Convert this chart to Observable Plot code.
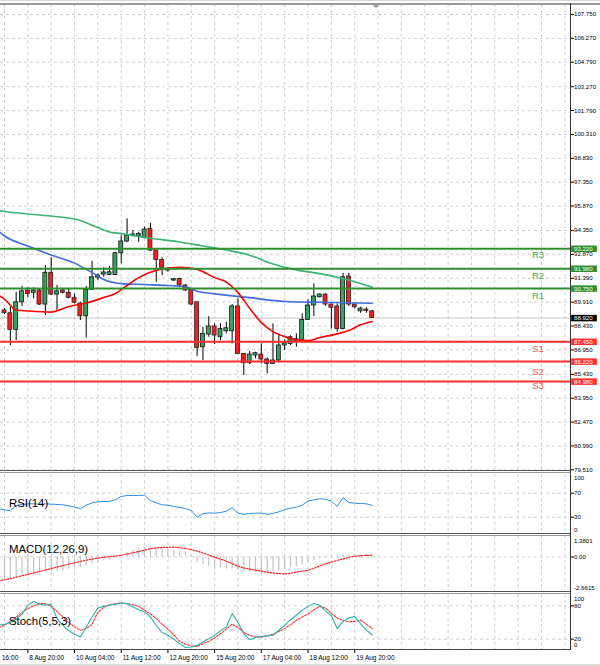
<!DOCTYPE html>
<html>
<head>
<meta charset="utf-8">
<script src="https://cdn.jsdelivr.net/npm/d3@7"></script>
<script src="https://cdn.jsdelivr.net/npm/@observablehq/plot@0.6"></script>
<style>
  html, body { margin: 0; padding: 0; background: #fff; }
  #root { position: relative; width: 600px; height: 666px; overflow: hidden; background: #fff; }
  .panel { position: absolute; left: 0; width: 600px; }
  .panel svg { display: block; }
  .ln { position: absolute; }
</style>
</head>
<body>
<div id="root">
  <div class="panel" id="pMain" style="top:0px"></div>
  <div class="panel" id="pRsi" style="top:472px"></div>
  <div class="panel" id="pMacd" style="top:534px"></div>
  <div class="panel" id="pStoch" style="top:593px"></div>
  <!-- window / sub-window borders -->
  <div class="ln" style="left:0;top:0;width:600px;height:1px;background:#d6d6d6"></div>
  <div class="ln" style="left:0;top:3px;width:600px;height:2px;background:#9a9a9a"></div>
  <div class="ln" style="left:0;top:470px;width:570px;height:1px;background:#555"></div>
  <div class="ln" style="left:0;top:472px;width:570px;height:1px;background:#999"></div>
  <div class="ln" style="left:0;top:533px;width:570px;height:1px;background:#555"></div>
  <div class="ln" style="left:0;top:535px;width:570px;height:1px;background:#999"></div>
  <div class="ln" style="left:0;top:591px;width:570px;height:1px;background:#555"></div>
  <div class="ln" style="left:0;top:593px;width:570px;height:1px;background:#999"></div>
  <div class="ln" style="left:0;top:649px;width:570px;height:1px;background:#444"></div>
  <div class="ln" style="left:570px;top:3px;width:1px;height:647px;background:#333"></div>
  <div class="ln" style="left:0;top:664px;width:600px;height:2px;background:#dcdcdc"></div>
  <div class="ln" style="left:373px;top:5px;width:0;height:0;border-left:3px solid transparent;border-right:3px solid transparent;border-top:3px solid #999"></div>
</div>
<script>
// ---------------- DATA (4H candles, index 0..63) ----------------
const candleOpen  = [89.39,89.22,88.19,89.90,90.63,90.49,90.63,89.76,91.73,90.38,
                     90.63,90.49,90.18,89.82,89.03,90.67,91.43,91.62,91.60,91.60,
                     92.94,93.67,94.00,94.01,93.90,94.46,93.11,92.53,91.93,91.25,
                     91.35,90.94,90.67,89.90,87.11,87.90,88.40,87.73,88.10,88.10,
                     89.64,86.70,86.12,86.60,86.66,86.35,86.08,86.29,87.22,87.32,
                     87.48,87.57,88.81,89.70,90.21,90.38,89.76,89.64,88.25,91.50,
                     89.76,89.34,89.45,89.34];
const candleHigh  = [89.51,89.59,90.52,90.88,90.80,90.80,90.73,92.18,92.66,90.94,
                     90.73,90.73,90.42,89.90,90.88,92.45,91.66,92.04,92.12,93.00,
                     94.04,95.08,94.35,94.24,94.56,94.80,93.15,92.66,92.04,91.37,
                     91.39,91.00,90.73,89.90,88.35,89.01,88.56,88.56,88.66,89.76,
                     90.11,86.70,86.86,86.80,87.32,86.45,88.56,87.90,87.57,87.82,
                     87.94,89.18,90.05,91.04,90.42,90.42,89.80,89.80,91.70,91.70,
                     89.80,89.59,89.56,89.39];
const candleLow   = [89.14,87.22,87.53,89.64,90.18,90.11,89.70,89.08,90.32,89.39,
                     90.42,90.11,89.80,88.77,87.69,90.63,91.25,91.45,91.56,91.56,
                     92.28,93.62,93.98,93.62,93.84,93.05,91.14,91.56,91.76,91.19,
                     90.88,90.58,89.70,86.53,86.29,87.73,87.28,87.53,87.94,87.32,
                     86.66,85.36,86.04,86.39,86.08,85.46,86.04,86.24,86.91,87.22,
                     87.11,87.53,88.77,89.01,90.18,89.64,88.25,88.04,88.19,89.64,
                     89.49,89.22,89.22,88.92];
const candleClose = [89.24,88.19,89.90,90.58,90.42,90.63,89.76,91.73,90.38,90.58,
                     90.49,90.18,89.87,89.03,90.67,91.45,91.56,91.75,91.76,92.94,
                     93.67,94.04,94.10,94.13,94.41,93.11,92.53,92.04,91.87,91.33,
                     90.94,90.63,89.76,87.07,87.94,88.40,87.84,88.25,88.29,89.64,
                     86.70,86.12,86.66,86.74,86.35,86.08,86.29,87.22,87.36,87.73,
                     87.61,88.81,89.70,90.26,90.38,89.76,89.56,88.25,91.45,89.76,
                     89.59,89.51,89.36,88.92];
const lastPrice = 88.92;

// moving averages (read at bar indices)
const maSlowIdx = [-1,0,6,12,16,18,20,24,30,34,38,42,46,50,54,58,63];
const maSlowVal = [95.58,95.53,95.31,95.06,94.54,94.26,94.16,93.92,93.64,93.39,93.14,92.82,92.27,91.91,91.68,91.37,90.83];
const maMidIdx  = [-1,0,4,8,12,15,17,20,24,28,31,33,36,42,48,54,63];
const maMidVal  = [94.29,94.01,93.39,92.83,92.33,91.74,91.31,91.06,91.00,90.94,90.86,90.58,90.42,90.19,89.95,89.90,89.84];
const maFastIdx = [-1,0,2,4,8,11,14,17,19,21,23,25,27,30,33,36,38,40,42,44,46,48,50,52,54,57,59,61,63];
const maFastVal = [90.32,90.10,89.42,89.36,89.29,89.64,89.85,90.19,90.44,90.94,91.43,91.76,91.96,92.07,91.94,91.43,91.15,90.50,89.53,88.64,88.08,87.77,87.57,87.52,87.71,87.94,88.15,88.50,88.71];

// pivot levels
const resistanceNames  = ["R3","R2","R1"];
const resistanceLevels = [93.22, 91.98, 90.75];
const resistanceLabelAt = [92.86, 91.56, 90.32];
const supportNames  = ["S1","S2","S3"];
const supportLevels = [87.45, 86.22, 84.98];
const supportLabelAt = [87.01, 85.56, 84.74];
const levelLabelTime = 91.4;

// price axis ticks
const priceTicks = [107.750,106.270,104.790,103.270,101.790,100.310,98.830,97.350,95.870,94.350,
                    92.870,91.390,89.910,88.430,86.950,85.430,83.950,82.470,80.990,79.510];

// indicators (first value is bar -1, partly off-screen)
const rsiStart = -1;
const rsiVals = [44, 42.3,40.7,49.5,51.2,52.3,52.3,51.7,52.3,51.7,51.2,
                 50.6,49,46.7,44,50,54,55.7,56.2,56.2,59,
                 64.5,66.2,66.2,66.2,66.7,57.8,54,50.6,50,47.8,
                 46.2,44.5,41.2,30,35.7,37.3,36.7,37.8,40,45.7,
                 36.7,35,36.2,36.7,36.7,35,36.2,39,42.8,45,
                 46.7,50,56.7,59,60.7,60,56.7,47.8,62.3,54.5,
                 53.3,52.8,52.3,49.5];
const rsiLevels = [70, 30];

const macdMain = [-1.55,-1.55,-1.5,-1.45,-1.4,-1.35,-1.3,-1.15,-1.1,-1.05,
                  -1.0,-0.9,-0.8,-0.8,-0.65,-0.5,-0.4,-0.3,-0.25,-0.1,
                  0.05,0.3,0.5,0.6,0.7,0.7,0.65,0.6,0.5,0.45,
                  0.4,0.35,0.1,-0.43,-0.55,-0.67,-0.79,-0.79,-0.87,-0.87,
                  -0.99,-1.08,-1.1,-1.1,-1.1,-1.1,-1.08,-1.04,-0.91,-0.79,
                  -0.72,-0.6,-0.43,-0.26,-0.11,-0.06,-0.06,-0.1,0.13,0.13,
                  0.18,0.13,0.18,0.13];
const macdSignalIdx = [-1,0,3,6,10,13,16,20,23,26,29,31,33,36,38,40,44,48,50,52,55,58,60,63];
const macdSignalVal = [-1.72,-1.66,-1.37,-1.06,-0.63,-0.33,-0.08,0.13,0.40,0.66,0.71,0.62,0.42,-0.02,-0.31,-0.67,-1.03,-1.23,-1.10,-0.96,-0.50,-0.15,0.05,0.13];
const macdMax = 1.3801, macdMin = -2.6615;

const stochStart = -1;
const stochMain = [45, 47,50,56,65,81,88,83,81,83,57,
                   45,35,29,24,42,60,76,79,81,83,
                   85,84,78,73,69,60,45,32,27,20,
                   12,5,6,9,15,21,27,35,42,66,
                   50,30,19,23,25,26,27,36,45,55,
                   63,72,79,84,81,71,62,39,52,58,
                   61,48,36,28];
const stochSignal = [41, 45,52,60,68,75,80,84,84,79,70,
                     60,50,42,36,39,47,68,77,82,84,
                     85,84,82,79,72,65,57,47,38,28,
                     16,11,8,7,12,16,22,30,38,47,
                     41,32,27,24,24,26,29,34,39,46,
                     54,60,65,73,79,76,66,58,54,51,
                     52,54,47,39];
const stochLevels = [80, 20];

// time axis
const timeLabelIdx  = [-4, 4, 12, 20, 28, 36, 44, 52, 60];
const timeLabelText = ["16:00","8 Aug 20:00","10 Aug 04:00","11 Aug 12:00","12 Aug 20:00","15 Aug 20:00","17 Aug 04:00","18 Aug 12:00","19 Aug 20:00"];

// ---------------- BUILD ----------------
const X_DOMAIN = [-0.685, 96.97];
const FONT = "'Liberation Sans', Arial, sans-serif";
const GRID = "#cfcfcf", DASH = "3,3";
const BULL = "#39a25f", BEAR = "#ff1a1a";
const R_COLOR = "#2f8f2f", S_COLOR = "#ff2d2d";
const gridIdx = d3.range(0, 97, 4);

const bars = candleOpen.map((o, i) => ({i, o, h: candleHigh[i], l: candleLow[i], c: candleClose[i]}));
const pairs = (idx, vals) => vals.map((v, k) => ({i: idx[k], v}));
const seq = (start, vals) => vals.map((v, k) => ({i: start + k, v}));
const styleBase = {fontFamily: FONT, fontSize: "6.1px", background: "#fff", color: "#000", overflow: "hidden"};
const gridV = () => Plot.ruleX(gridIdx, {stroke: GRID, strokeDasharray: DASH});
const axisY = (ticks, fmt) => ({axis: "right", ticks, tickFormat: fmt, tickSize: 3, tickPadding: 0.5, label: null});
const sideLabel = (v, dy, fmt) => Plot.text([v], {y: d => d, text: fmt, frameAnchor: "right", dx: 3.5, dy, textAnchor: "start", lineAnchor: "middle", fontSize: 6.1, fill: "#000"});
const title = (t, dy) => Plot.text([t], {frameAnchor: "top-left", text: d => d, dx: 8.5, dy, textAnchor: "start", lineAnchor: "middle", fontSize: 11.4, fill: "#000", fontFamily: FONT});

const rLab = resistanceNames.map((t, k) => ({t, p: resistanceLabelAt[k]}));
const sLab = supportNames.map((t, k) => ({t, p: supportLabelAt[k]}));

const mainPlot = Plot.plot({
  width: 600, height: 472, marginTop: 4, marginBottom: 1, marginLeft: 0, marginRight: 30,
  style: styleBase,
  x: {domain: X_DOMAIN, axis: null},
  y: {domain: [79.51, 107.75], range: [469.3, 14], ...axisY(priceTicks, d => d.toFixed(3))},
  marks: [
    gridV(),
    Plot.ruleY(priceTicks, {stroke: GRID, strokeDasharray: DASH}),
    Plot.ruleY([lastPrice], {stroke: "#c4c4c4"}),
    Plot.ruleX(bars, {x: "i", y1: "l", y2: "h", stroke: "#000", strokeWidth: 1}),
    Plot.rect(bars, {filter: d => d.c >= d.o, x1: d => d.i - 0.34, x2: d => d.i + 0.34, y1: "o", y2: "c", fill: BULL, stroke: "#111", strokeWidth: 0.8}),
    Plot.rect(bars, {filter: d => d.c < d.o, x1: d => d.i - 0.34, x2: d => d.i + 0.34, y1: "o", y2: "c", fill: BEAR, stroke: "#222", strokeWidth: 0.8}),
    Plot.line(pairs(maSlowIdx, maSlowVal), {x: "i", y: "v", stroke: "#3cb371", strokeWidth: 1.6, curve: "monotone-x"}),
    Plot.line(pairs(maMidIdx, maMidVal), {x: "i", y: "v", stroke: "#4169e1", strokeWidth: 1.6, curve: "monotone-x"}),
    Plot.line(pairs(maFastIdx, maFastVal), {x: "i", y: "v", stroke: "#ff0000", strokeWidth: 1.6, curve: "monotone-x"}),
    Plot.ruleY(resistanceLevels, {stroke: R_COLOR, strokeWidth: 2}),
    Plot.ruleY(supportLevels, {stroke: S_COLOR, strokeWidth: 2}),
    Plot.text(rLab, {x: levelLabelTime, y: "p", text: "t", fill: "#4aa84a", fontSize: 9.5, fontFamily: FONT}),
    Plot.text(sLab, {x: levelLabelTime, y: "p", text: "t", fill: "#ff5555", fontSize: 9.5, fontFamily: FONT}),
    // price tags on the axis
    Plot.ruleY(resistanceLevels, {x1: X_DOMAIN[1] + 0.2, x2: X_DOMAIN[1] + 4.6, stroke: R_COLOR, strokeWidth: 6.5}),
    Plot.ruleY(supportLevels, {x1: X_DOMAIN[1] + 0.2, x2: X_DOMAIN[1] + 4.6, stroke: S_COLOR, strokeWidth: 6.5}),
    Plot.ruleY([lastPrice], {x1: X_DOMAIN[1] + 0.2, x2: X_DOMAIN[1] + 4.6, stroke: "#000", strokeWidth: 6.5}),
    Plot.text([...resistanceLevels, ...supportLevels, lastPrice], {y: d => d, text: d => d.toFixed(3), frameAnchor: "right", dx: 3.5, textAnchor: "start", lineAnchor: "middle", fill: "#fff", fontSize: 6.1})
  ]
});

const rsiPlot = Plot.plot({
  width: 600, height: 62, marginTop: 2, marginBottom: 1, marginLeft: 0, marginRight: 30,
  style: styleBase,
  x: {domain: X_DOMAIN, axis: null},
  y: {domain: [0, 100], range: [62.7, 2.7], ...axisY(rsiLevels, d => String(d))},
  marks: [
    gridV(),
    Plot.ruleY(rsiLevels, {stroke: GRID, strokeDasharray: DASH}),
    Plot.line(seq(rsiStart, rsiVals), {x: "i", y: "v", stroke: "#2b8ef0", strokeWidth: 1}),
    title("RSI(14)", 29.3),
    sideLabel(100, 2.6, d => String(d)),
    sideLabel(0, -4.7, d => String(d))
  ]
});

const macdPlot = Plot.plot({
  width: 600, height: 59, marginTop: 2, marginBottom: 1, marginLeft: 0, marginRight: 30,
  style: styleBase,
  x: {domain: X_DOMAIN, axis: null},
  y: {domain: [macdMin, macdMax], range: [59, 3.5], ...axisY([0], d => d.toFixed(2))},
  marks: [
    gridV(),
    Plot.ruleY([0], {stroke: GRID, strokeDasharray: DASH}),
    Plot.ruleX(seq(0, macdMain), {x: "i", y1: 0, y2: "v", stroke: "#c2c2c2", strokeWidth: 1.2}),
    Plot.line(pairs(macdSignalIdx, macdSignalVal), {x: "i", y: "v", stroke: "#ff2020", strokeWidth: 1.2, strokeDasharray: "1.5,1.5", curve: "monotone-x"}),
    title("MACD(12,26,9)", 13),
    sideLabel(macdMax, 3.5, d => d.toFixed(4)),
    sideLabel(macdMin, -5.7, d => d.toFixed(4))
  ]
});

const timeLabels = timeLabelIdx.map((i, k) => ({i, t: timeLabelText[k]}));
const stochPlot = Plot.plot({
  width: 600, height: 73, marginTop: 1, marginBottom: 16, marginLeft: 0, marginRight: 30,
  style: styleBase,
  x: {domain: X_DOMAIN, axis: "bottom", ticks: timeLabelIdx, tickFormat: () => "", tickSize: 3, label: null},
  y: {domain: [0, 100], range: [56.8, 1.2], ...axisY(stochLevels, d => String(d))},
  marks: [
    gridV(),
    Plot.ruleY(stochLevels, {stroke: GRID, strokeDasharray: DASH}),
    Plot.line(seq(stochStart, stochSignal), {x: "i", y: "v", stroke: "#ff3030", strokeWidth: 1.1, strokeDasharray: "2,1.5"}),
    Plot.line(seq(stochStart, stochMain), {x: "i", y: "v", stroke: "#27b5aa", strokeWidth: 1.1}),
    title("Stoch(5,5,3)", 27),
    sideLabel(100, 4.5, d => String(d)),
    sideLabel(0, -5.1, d => String(d)),
    Plot.text(timeLabels, {x: d => Math.max(d.i, X_DOMAIN[0]), text: "t", frameAnchor: "bottom", dy: 7, dx: 1.5, textAnchor: "start", lineAnchor: "middle", fontSize: 6.5, fill: "#000"})
  ]
});

document.getElementById("pMain").appendChild(mainPlot);
document.getElementById("pRsi").appendChild(rsiPlot);
document.getElementById("pMacd").appendChild(macdPlot);
document.getElementById("pStoch").appendChild(stochPlot);
</script>
</body>
</html>
